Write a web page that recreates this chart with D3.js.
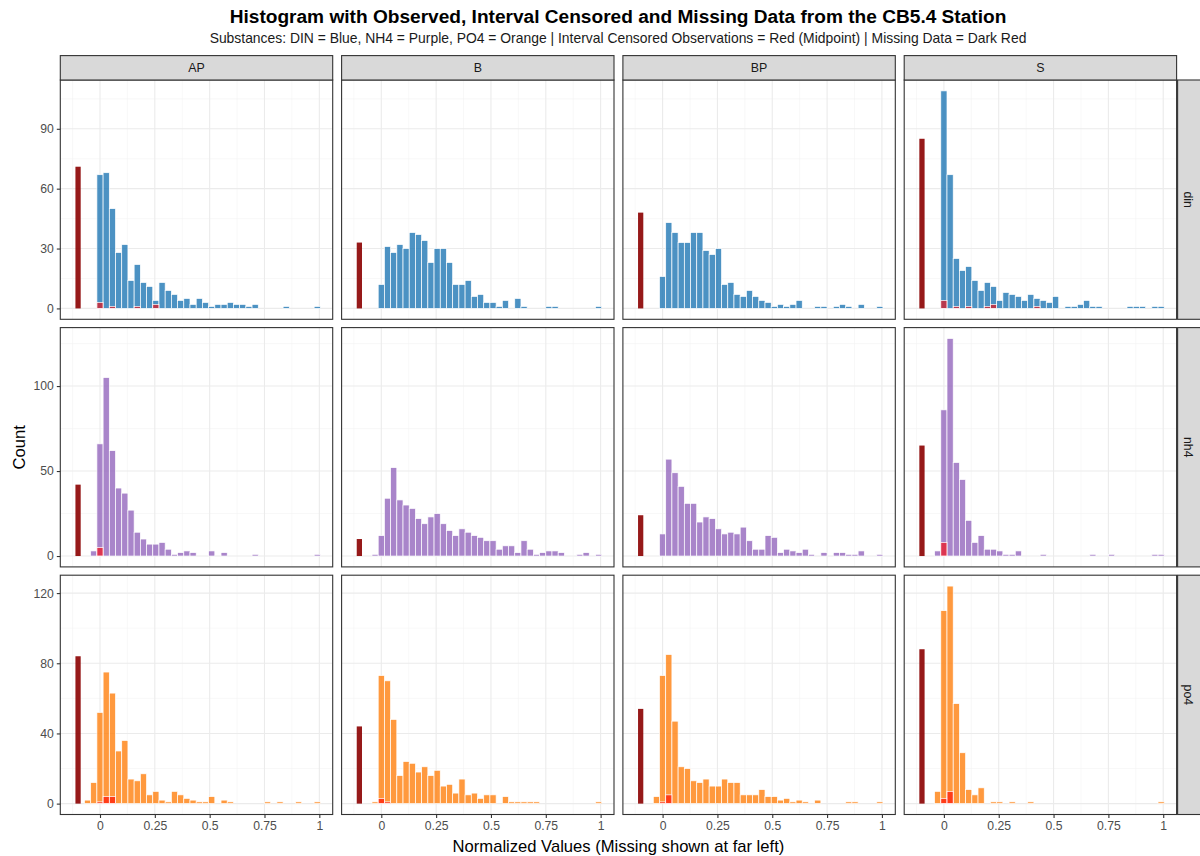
<!DOCTYPE html>
<html><head><meta charset="utf-8">
<script src="https://cdn.jsdelivr.net/npm/d3@7"></script>
<style>
body{margin:0;background:#fff;}
text{font-family:"Liberation Sans", Arial, Helvetica, sans-serif;}
</style>
</head><body>
<svg id="chart" width="1200" height="856"></svg>
<script>
// ---------------- DATA ----------------
const stations = ["AP", "B", "BP", "S"];
const substances = ["din", "nh4", "po4"];
const binWidth = 0.0283;          // histogram bin width (normalized units)
const firstBin = -2;              // index of the first bin (bin centre = index * binWidth)
const missingX = -0.1;            // where the missing-data bar is drawn
const missingWidth = 0.024;

const xTicks = [0, 0.25, 0.5, 0.75, 1];
const xTickLabels = ["0", "0.25", "0.5", "0.75", "1"];
const xMinor = [-0.125, 0.125, 0.375, 0.625, 0.875];
const yTicksDIN = [0, 30, 60, 90];
const yTicksNH4 = [0, 50, 100];
const yTicksPO4 = [0, 40, 80, 120];

// observed counts per bin (bins -2 .. 35)
const din_AP = [0,0, 67,68,50,28,32,14,22,13,11,4, 13,9,7,4,5,2,5,3,1,2, 2,3,2,2,1,2,0,0,0,0, 1,0,0,0,0,1];
const din_B  = [0,0, 12,31,28,32,30,38,37,34,23,30, 30,23,12,12,14,6,7,3,3,1, 4,0,5,1,0,0,0,1,1,0, 0,0,0,0,0,1];
const din_BP = [0,0, 16,43,38,33,33,38,38,29,27,30, 12,13,7,6,9,6,4,3,1,2, 1,2,4,0,0,1,1,0,1,2, 1,0,2,0,0,1];
const din_S  = [0,0, 109,67,25,19,21,14,9,13,11,4, 8,7,6,4,7,5,4,3,6,0, 1,1,2,4,1,1,0,0,0,0, 1,1,1,0,1,1];

const nh4_AP = [0,3, 66,105,62,40,37,27,14,10,7,7, 8,4,1,2,3,2,0,0,3,0, 2,0,0,0,0,1,0,0,0,0, 0,0,0,0,0,1];
const nh4_B  = [0,1, 12,34,52,33,30,28,22,19,23,25, 19,15,12,16,14,12,11,9,9,4, 6,6,2,9,4,1,2,3,3,2, 0,0,1,2,0,1];
const nh4_BP = [0,0, 13,57,49,41,31,31,20,23,22,16, 13,14,13,17,9,4,4,12,11,2, 4,3,2,4,1,0,2,0,2,2, 1,1,3,0,0,1];
const nh4_S  = [0,3, 86,128,55,45,21,8,12,4,4,3, 1,1,3,0,0,0,1,0,0,0, 0,0,0,0,1,0,0,1,0,0, 0,0,0,0,1,1];

const po4_AP = [2,12, 52,75,63,30,36,14,13,17,5,7, 2,1,7,5,3,2,1,1,4,0, 2,1,0,0,0,0,0,1,0,1, 0,0,1,0,0,1];
const po4_B  = [0,1, 73,70,48,16,24,23,18,21,16,19, 10,11,6,14,5,6,3,5,5,0, 4,1,1,1,1,1,0,0,0,0, 0,0,0,0,0,1];
const po4_BP = [0,4, 73,85,47,21,20,13,12,14,10,10, 14,12,12,5,5,5,8,4,4,2, 3,1,2,1,0,2,0,0,0,0, 1,1,0,0,0,1];
const po4_S  = [0,7, 110,124,57,29,8,5,9,0,1,1, 0,1,0,0,1,0,0,0,0,0, 0,0,0,0,0,0,0,0,0,0, 0,0,0,0,0,1];

// interval-censored counts (midpoint), as [bin index, count]
const cens_din_AP = [[0,3],[2,1],[6,1],[9,2]];
const cens_din_B  = [];
const cens_din_BP = [];
const cens_din_S  = [[0,4],[2,1],[4,1],[7,1],[8,2],[15,1]];
const cens_nh4_AP = [[0,5]];
const cens_nh4_B  = [];
const cens_nh4_BP = [];
const cens_nh4_S  = [[0,8]];
const cens_po4_AP = [[0,1],[1,4],[2,4]];
const cens_po4_B  = [[0,3],[1,1]];
const cens_po4_BP = [[0,1],[1,5]];
const cens_po4_S  = [[0,3],[1,7]];

// missing counts per station (AP, B, BP, S)
const missing_din = [71, 33, 48, 85];
const missing_nh4 = [42, 10, 24, 65];
const missing_po4 = [84, 44, 54, 88];

// ---------------- LOOKUP ----------------
const observed = {
  din: [din_AP, din_B, din_BP, din_S],
  nh4: [nh4_AP, nh4_B, nh4_BP, nh4_S],
  po4: [po4_AP, po4_B, po4_BP, po4_S]
};
const censored = {
  din: [cens_din_AP, cens_din_B, cens_din_BP, cens_din_S],
  nh4: [cens_nh4_AP, cens_nh4_B, cens_nh4_BP, cens_nh4_S],
  po4: [cens_po4_AP, cens_po4_B, cens_po4_BP, cens_po4_S]
};
const missing = { din: missing_din, nh4: missing_nh4, po4: missing_po4 };
const yTicks = { din: yTicksDIN, nh4: yTicksNH4, po4: yTicksPO4 };
const fills = { din: "#1f77b4", nh4: "#9467bd", po4: "#ff7f0e" };

// ---------------- LAYOUT ----------------
const svg = d3.select("#chart");
const panelX0 = 60.3, panelStepX = 281.3, panelW = 272.4;
const panelY0 = 80, panelStepY = 247.6, panelH = 239.3;
const stripH = 24.4;
const tickFont = 12.2, stripFont = 12.4;

const x = d3.scaleLinear().domain([-0.181, 1.061]).range([0, panelW]);

// title
svg.append("text").attr("x", 618).attr("y", 23).attr("text-anchor", "middle")
  .attr("font-size", 19.1).attr("font-weight", "bold").attr("fill", "#000")
  .text("Histogram with Observed, Interval Censored and Missing Data from the CB5.4 Station");
svg.append("text").attr("x", 618).attr("y", 43).attr("text-anchor", "middle")
  .attr("font-size", 13.9).attr("fill", "#1a1a1a")
  .text("Substances: DIN = Blue, NH4 = Purple, PO4 = Orange | Interval Censored Observations = Red (Midpoint) | Missing Data = Dark Red");

const defs = svg.append("defs");

substances.forEach((sub, r) => {
  const py = panelY0 + r * panelStepY;
  let rowMax = d3.max(missing[sub]);
  observed[sub].forEach(arr => { rowMax = Math.max(rowMax, d3.max(arr)); });
  const y = d3.scaleLinear().domain([-0.05 * rowMax, 1.05 * rowMax]).range([panelH, 0]);
  const ticks = yTicks[sub];
  const step = ticks[1] - ticks[0];
  const minorY = ticks.map(t => t + step / 2).filter(v => v < y.domain()[1]);

  stations.forEach((st, c) => {
    const px = panelX0 + c * panelStepX;
    const g = svg.append("g").attr("transform", `translate(${px},${py})`);
    const clipId = `clip-${r}-${c}`;
    defs.append("clipPath").attr("id", clipId).append("rect")
      .attr("x", 0).attr("y", 0).attr("width", panelW).attr("height", panelH);

    g.append("rect").attr("width", panelW).attr("height", panelH).attr("fill", "#fff");
    const inner = g.append("g").attr("clip-path", `url(#${clipId})`);

    // minor grid
    inner.selectAll(".mx").data(xMinor).enter().append("line")
      .attr("x1", d => x(d)).attr("x2", d => x(d)).attr("y1", 0).attr("y2", panelH)
      .attr("stroke", "#f2f2f2").attr("stroke-width", 0.55);
    inner.selectAll(".my").data(minorY).enter().append("line")
      .attr("y1", d => y(d)).attr("y2", d => y(d)).attr("x1", 0).attr("x2", panelW)
      .attr("stroke", "#f2f2f2").attr("stroke-width", 0.55);
    // major grid
    inner.selectAll(".gx").data(xTicks).enter().append("line")
      .attr("x1", d => x(d)).attr("x2", d => x(d)).attr("y1", 0).attr("y2", panelH)
      .attr("stroke", "#ebebeb").attr("stroke-width", 1.1);
    inner.selectAll(".gy").data(ticks).enter().append("line")
      .attr("y1", d => y(d)).attr("y2", d => y(d)).attr("x1", 0).attr("x2", panelW)
      .attr("stroke", "#ebebeb").attr("stroke-width", 1.1);

    // observed histogram
    const obs = observed[sub][c].map((v, i) => ({ center: (i + firstBin) * binWidth, count: v }));
    inner.selectAll(".bar").data(obs).enter().append("rect")
      .attr("x", d => x(d.center - binWidth / 2))
      .attr("width", d => x(d.center + binWidth / 2) - x(d.center - binWidth / 2))
      .attr("y", d => y(d.count))
      .attr("height", d => y(0) - y(d.count))
      .attr("fill", fills[sub]).attr("fill-opacity", 0.8)
      .attr("stroke", "#fff").attr("stroke-width", 0.7);

    // censored (midpoint) overlay
    const cen = censored[sub][c].map(([k, v]) => ({ center: k * binWidth, count: v }));
    inner.selectAll(".cbar").data(cen).enter().append("rect")
      .attr("x", d => x(d.center - binWidth / 2))
      .attr("width", d => x(d.center + binWidth / 2) - x(d.center - binWidth / 2))
      .attr("y", d => y(d.count))
      .attr("height", d => y(0) - y(d.count))
      .attr("fill", "#ff0000").attr("fill-opacity", 0.6)
      .attr("stroke", "#fff").attr("stroke-width", 0.7);

    // missing bar
    const mv = missing[sub][c];
    inner.append("rect")
      .attr("x", x(missingX - missingWidth / 2))
      .attr("width", x(missingX + missingWidth / 2) - x(missingX - missingWidth / 2))
      .attr("y", y(mv)).attr("height", y(0) - y(mv))
      .attr("fill", "#8b0000").attr("fill-opacity", 0.9);

    // border
    g.append("rect").attr("width", panelW).attr("height", panelH)
      .attr("fill", "none").attr("stroke", "#333333").attr("stroke-width", 1.1);

    // y axis on first column
    if (c === 0) {
      const ya = g.append("g").call(d3.axisLeft(y).tickValues(ticks).tickSize(3.5).tickPadding(3));
      ya.select(".domain").remove();
      ya.selectAll(".tick line").attr("stroke", "#333333").attr("stroke-width", 1.1);
      ya.selectAll(".tick text").attr("fill", "#4d4d4d").attr("font-size", tickFont)
        .attr("font-family", "Liberation Sans, Arial, sans-serif");
    }
    // x axis on last row
    if (r === substances.length - 1) {
      const xa = g.append("g").attr("transform", `translate(0,${panelH})`)
        .call(d3.axisBottom(x).tickValues(xTicks).tickFormat((d, i) => xTickLabels[i]).tickSize(3.5).tickPadding(3));
      xa.select(".domain").remove();
      xa.selectAll(".tick line").attr("stroke", "#333333").attr("stroke-width", 1.1);
      xa.selectAll(".tick text").attr("fill", "#4d4d4d").attr("font-size", tickFont)
        .attr("font-family", "Liberation Sans, Arial, sans-serif");
    }
    // top strip
    if (r === 0) {
      const sg = svg.append("g").attr("transform", `translate(${px},${py - stripH})`);
      sg.append("rect").attr("width", panelW).attr("height", stripH)
        .attr("fill", "#d9d9d9").attr("stroke", "#333333").attr("stroke-width", 1.1);
      sg.append("text").attr("x", panelW / 2).attr("y", stripH / 2).attr("dy", "0.35em")
        .attr("text-anchor", "middle").attr("font-size", stripFont).attr("fill", "#1a1a1a").text(st);
    }
    // right strip
    if (c === stations.length - 1) {
      const sx = px + panelW + 1;
      const sg = svg.append("g").attr("transform", `translate(${sx},${py})`);
      sg.append("rect").attr("width", stripH + 2).attr("height", panelH)
        .attr("fill", "#d9d9d9").attr("stroke", "#333333").attr("stroke-width", 1.1);
      sg.append("text").attr("transform", `translate(${stripH / 2 - 1},${panelH / 2}) rotate(90)`)
        .attr("dy", "0.35em").attr("text-anchor", "middle").attr("font-size", stripFont)
        .attr("fill", "#1a1a1a").text(sub);
    }
  });
});

// axis titles
const plotCX = panelX0 + (3 * panelStepX + panelW) / 2;
const plotCY = panelY0 + (2 * panelStepY + panelH) / 2;
svg.append("text").attr("x", plotCX).attr("y", 852).attr("text-anchor", "middle")
  .attr("font-size", 16.6).attr("fill", "#000").text("Normalized Values (Missing shown at far left)");
svg.append("text").attr("transform", `translate(25,${plotCY}) rotate(-90)`).attr("text-anchor", "middle")
  .attr("font-size", 16.6).attr("fill", "#000").text("Count");
</script>
</body></html>
